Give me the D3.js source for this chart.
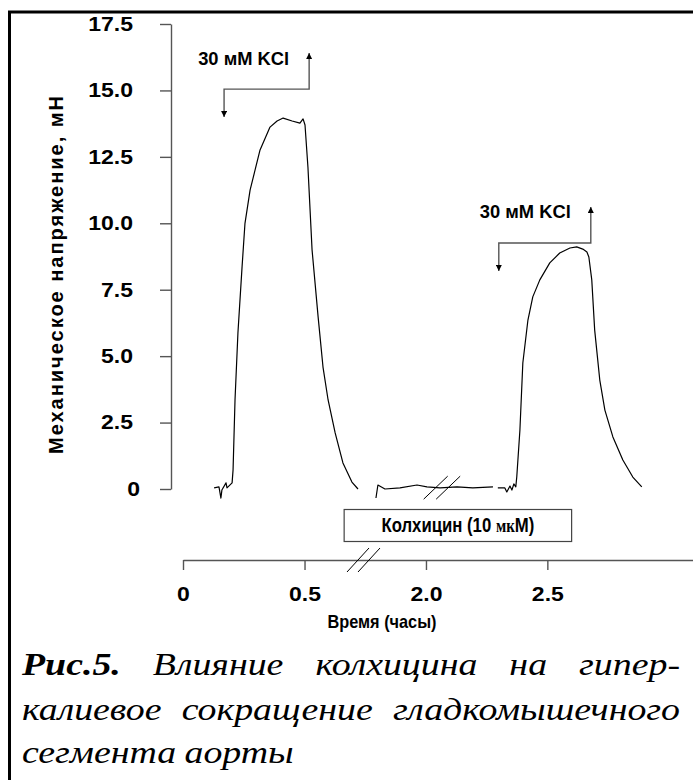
<!DOCTYPE html>
<html>
<head>
<meta charset="utf-8">
<script src="https://cdn.jsdelivr.net/npm/d3@7"></script>
<style>
body{margin:0;background:#fff;}
svg{display:block;}
.eixo path,.eixo line{stroke:#555;stroke-width:1.4;}
.eixo .tick text{font-family:"Liberation Sans",Arial,sans-serif;font-weight:bold;font-size:20px;fill:#000;}
.lbl{font-family:"Liberation Sans",Arial,sans-serif;font-weight:bold;fill:#000;}
.legenda{font-family:"Liberation Serif","Times New Roman",serif;font-style:italic;font-size:32px;fill:#000;}
</style>
</head>
<body>
<div id="corpo"></div>
<script>
/*=== dados ===*/
var ticksY = [0, 2.5, 5, 7.5, 10, 12.5, 15, 17.5];
var ticksX = [0, 0.5, 2.0, 2.5];
var corte = [0.72, 1.72]; // hora cortada do eixo
var fimX = 3.1;
var maxY = 17.5;

// registro: [horas, mН]
var pico1 = [[0.128,0.04],[0.148,0.08],[0.156,-0.34],[0.160,-0.04],[0.177,0.23],[0.181,0.04],[0.202,0.23],
	[0.206,0.72],[0.214,3.35],[0.226,5.87],[0.243,8.36],[0.255,10.0],[0.276,11.25],[0.317,12.76],[0.358,13.62],
	[0.387,13.85],[0.412,13.96],[0.449,13.85],[0.481,13.77],[0.494,13.93],[0.502,13.7],[0.514,12.12],[0.531,9.0],
	[0.556,6.47],[0.576,4.59],[0.597,3.35],[0.626,2.11],[0.658,0.98],[0.695,0.26],[0.720,0.0]];
var basal = [[1.794,-0.34],[1.802,0.15],[1.831,0.0],[1.893,0.04],[1.963,0.15],[2.004,0.08],[2.058,0.04],
	[2.128,0.08],[2.193,0.04],[2.276,0.08]];
var pico2 = [[2.296,0.04],[2.325,0.04],[2.333,-0.11],[2.346,0.11],[2.354,-0.04],[2.362,0.19],[2.370,0.08],
	[2.374,0.45],[2.387,2.22],[2.399,4.74],[2.420,6.36],[2.440,7.23],[2.469,7.87],[2.510,8.51],[2.551,8.88],
	[2.593,9.07],[2.621,9.11],[2.646,9.03],[2.663,8.92],[2.671,8.73],[2.683,7.87],[2.695,5.98],[2.716,4.10],
	[2.737,2.97],[2.770,1.96],[2.811,1.09],[2.852,0.45],[2.889,0.08]];

var kclInicio = [0.169, 2.300];
var kclFim = [0.519, 2.679];
var kclNivel = [15.05, 9.26];
var kclTexto = "30 мМ KCl";
var colchicina = [0.663, 2.60];
var corteRegistro = 2.04;

var tituloY = "Механическое напряжение, мН";
var tituloX = "Время (часы)";
var legenda = [
	[{t:"Рис.5.", b:true}, {t:"Влияние"}, {t:"колхицина"}, {t:"на"}, {t:"гипер-"}],
	[{t:"калиевое"}, {t:"сокращение"}, {t:"гладкомышечного"}],
	[{t:"сегмента"}, {t:"аорты"}]
];

var width = 693, height = 780;

var svg = d3.select("#corpo").append("svg")
	.attr("width", width)
	.attr("height", height);

// moldura
svg.append("rect")
	.attr("x", 9.5).attr("y", 12)
	.attr("width", 800).attr("height", 900)
	.attr("fill", "none").attr("stroke", "#000").attr("stroke-width", 3);

/*=== escalas ===*/
var x = d3.scaleLinear()
	.domain([0, corte[0], corte[1], fimX])
	.range([183, 358, 358, 693]);

var y = d3.scaleLinear()
	.domain([0, maxY])
	.range([489, 24]);

var largo = 1.15; // letras do original são mais largas

// ajusta a largura de um texto com escala horizontal
function encaixa(g, largura){
	var w = g.node().getBBox().width;
	var t = g.attr("transform") || "";
	g.attr("transform", t + " scale(" + (largura / w) + ",1)");
}

/*=== eixos ===*/
var eixoY = svg.append("g")
	.attr("class", "eixo")
	.attr("transform", "translate(171,0)")
	.call(d3.axisLeft(y).tickValues(ticksY).tickSize(11).tickSizeOuter(0).tickPadding(27)
		.tickFormat(function(d){ return d === 0 ? "0" : d3.format(".1f")(d); }));
eixoY.selectAll(".tick text")
	.attr("transform", function(d){ return "translate(" + (d === 0 ? 7 : 0) + ",0) translate(-38,0) scale(" + largo + ",1) translate(38,0)"; });

var eixoX = svg.append("g")
	.attr("class", "eixo")
	.attr("transform", "translate(0,560)")
	.call(d3.axisBottom(x).tickValues(ticksX).tickSize(10).tickSizeOuter(0).tickPadding(17)
		.tickFormat(function(d){ return d === 0 ? "0" : d3.format(".1f")(d); }));
eixoX.selectAll(".tick text").attr("transform", "scale(" + largo + ",1)");

// quebra do eixo x
[0, 11].forEach(function(o){
	var cx = x(corte[0]) + o;
	svg.append("line")
		.attr("x1", cx - 11).attr("y1", 572).attr("x2", cx + 11).attr("y2", 548)
		.attr("stroke", "#000").attr("stroke-width", 1);
});

// títulos dos eixos
svg.append("text")
	.attr("class", "lbl")
	.attr("transform", "translate(63,275) rotate(-90)")
	.attr("text-anchor", "middle")
	.attr("font-size", 20)
	.attr("textLength", 358)
	.attr("lengthAdjust", "spacing")
	.text(tituloY);

svg.append("text")
	.attr("class", "lbl")
	.attr("x", 382).attr("y", 628)
	.attr("text-anchor", "middle")
	.attr("font-size", 19)
	.attr("textLength", 109)
	.attr("lengthAdjust", "spacingAndGlyphs")
	.text(tituloX);

/*=== registro ===*/
var linha = d3.line()
	.x(function(d){ return x(d[0]); })
	.y(function(d){ return y(d[1]); });

[pico1, basal, pico2].forEach(function(s){
	svg.append("path")
		.datum(s)
		.attr("d", linha)
		.attr("fill", "none")
		.attr("stroke", "#000")
		.attr("stroke-width", 1.2)
		.attr("stroke-linejoin", "round");
});

// quebra do registro
[0, 12.5].forEach(function(o){
	var cx = x(corteRegistro) + o, cy = y(0.05);
	svg.append("line")
		.attr("x1", cx - 12).attr("y1", cy + 11.5).attr("x2", cx + 12).attr("y2", cy - 11.5)
		.attr("stroke", "#000").attr("stroke-width", 1);
});

/*=== setas KCl ===*/
svg.append("defs").append("marker")
	.attr("id", "seta")
	.attr("viewBox", "0 0 10 10")
	.attr("refX", 10).attr("refY", 5)
	.attr("markerWidth", 8).attr("markerHeight", 6)
	.attr("markerUnits", "userSpaceOnUse")
	.attr("orient", "auto-start-reverse")
	.append("path")
	.attr("d", "M0,0L10,5L0,10Z")
	.attr("fill", "#000");

var descida = 28, subida = 36;
kclInicio.forEach(function(t0, i){
	var x0 = x(t0), x1 = x(kclFim[i]), yl = y(kclNivel[i]);
	svg.append("path")
		.attr("d", "M" + x0 + "," + (yl + descida) + "V" + yl + "H" + x1 + "V" + (yl - subida))
		.attr("fill", "none")
		.attr("stroke", "#555")
		.attr("stroke-width", 1.4)
		.attr("marker-start", "url(#seta)")
		.attr("marker-end", "url(#seta)");
	svg.append("text")
		.attr("class", "lbl")
		.attr("x", x1 - 20).attr("y", yl - subida + 11.5)
		.attr("text-anchor", "end")
		.attr("font-size", 19)
		.attr("textLength", 91)
		.attr("lengthAdjust", "spacingAndGlyphs")
		.text(kclTexto);
});

/*=== colchicina ===*/
var cx0 = x(colchicina[0]), cx1 = x(colchicina[1]);
svg.append("rect")
	.attr("x", cx0).attr("y", y(0) + 20.5)
	.attr("width", cx1 - cx0).attr("height", 32)
	.attr("fill", "#fff").attr("stroke", "#444").attr("stroke-width", 1.2);

var gCol = svg.append("g")
	.attr("transform", "translate(" + (cx0 + cx1) / 2 + "," + (y(0) + 43) + ")");
var tCol = gCol.append("text")
	.attr("class", "lbl")
	.attr("text-anchor", "middle")
	.attr("font-size", 20);
tCol.append("tspan").text("Колхицин (10 ");
tCol.append("tspan").attr("font-family", "Liberation Serif, serif").attr("font-size", 18).text("мк");
tCol.append("tspan").text("М)");
encaixa(gCol, 153);

/*=== legenda ===*/
var legX0 = 22, legX1 = 680, basesLeg = [675, 720, 763];
var gLeg = svg.append("g");

// mede a última linha para achar quanto esticar as letras
var teste = gLeg.append("text").attr("class", "legenda").text(legenda[2].map(function(w){ return w.t; }).join(" "));
var esticar = 273 / teste.node().getComputedTextLength();
teste.remove();

legenda.forEach(function(linhaTxt, li){
	var g = gLeg.append("g")
		.attr("transform", "translate(" + legX0 + "," + basesLeg[li] + ") scale(" + esticar + ",1)");
	var larguraTotal = (legX1 - legX0) / esticar;
	var palavras = linhaTxt.map(function(w){
		var t = g.append("text")
			.attr("class", "legenda")
			.attr("font-weight", w.b ? "bold" : "normal")
			.text(w.t);
		return {el: t, w: t.node().getComputedTextLength()};
	});
	var soma = d3.sum(palavras, function(p){ return p.w; });
	var espaco = li < 2 ? (larguraTotal - soma) / (palavras.length - 1) : 7;
	var pos = 0;
	palavras.forEach(function(p){
		p.el.attr("x", pos);
		pos += p.w + espaco;
	});
});
</script>
</body>
</html>
